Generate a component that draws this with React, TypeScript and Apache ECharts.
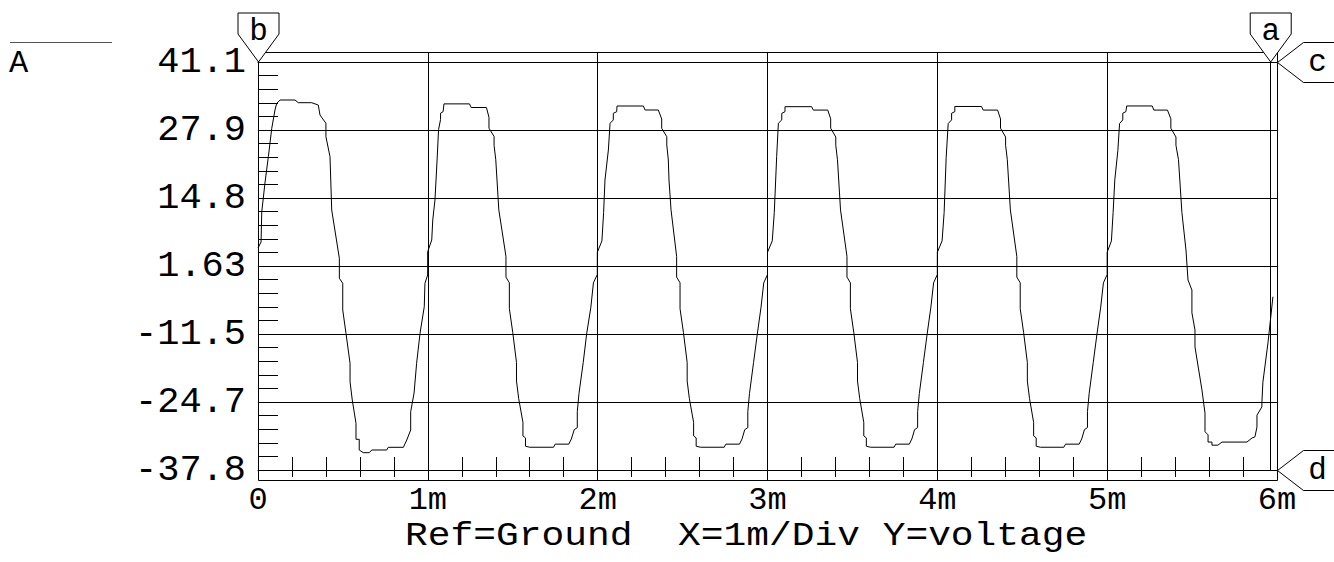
import React, { useEffect, useRef } from "react";
import * as echarts from "echarts";

// ---- labels ----
const traceName = "A";
const xTickLabels = ["0", "1m", "2m", "3m", "4m", "5m", "6m"];
const yTickLabels = ["-37.8", "-24.7", "-11.5", "1.63", "14.8", "27.9", "41.1"];
const bottomCaption = "Ref=Ground  X=1m/Div Y=voltage";
const cursorNames = ["a", "b", "c", "d"];

// ---- axis ranges (time in ms, voltage in V) ----
const xMin = 0;
const xMax = 6;
const yMin = -37.8;
const yMax = 41.1;

// ---- cursors ----
const cursorA = 5.96; // time
const cursorB = 0; // time
const cursorC = 41.1; // voltage
const cursorD = -37.8; // voltage

// ---- waveform, [time ms, volts] ----
const cycle1: [number, number][] = [
  [0.0, 5.13], [0.018, 6.29], [0.022, 12.09], [0.041, 17.7], [0.061, 22.79], [0.081, 28.28],
  [0.1, 31.82], [0.11, 33.09], [0.13, 33.75], [0.218, 33.75], [0.237, 33.23], [0.316, 33.23],
  [0.355, 32.78], [0.365, 30.85], [0.4, 29.25], [0.4, 26.65], [0.424, 22.79], [0.434, 12.48],
  [0.479, 3.14], [0.479, -0.73], [0.499, -1.7], [0.499, -6.86], [0.518, -11.37], [0.542, -17.17],
  [0.542, -20.73], [0.555, -24.26], [0.577, -28.77], [0.577, -31.86], [0.596, -31.86], [0.596, -33.93],
  [0.62, -34.45], [0.655, -34.45], [0.67, -33.93], [0.758, -33.93], [0.767, -33.41], [0.856, -33.41],
  [0.876, -32.0], [0.899, -30.06], [0.899, -26.53], [0.919, -22.91], [0.934, -17.17], [0.954, -11.37],
  [0.979, -6.22], [0.983, -1.7], [0.999, -0.09], [0.999, 4.41], [1.023, 6.68], [1.029, 10.55],
];
const cycle2: [number, number][] = [
  [1.042, 14.41], [1.055, 22.5], [1.063, 28.0], [1.075, 30.0], [1.075, 31.2], [1.09, 31.5],
  [1.095, 33.0], [1.245, 33.0], [1.255, 32.3], [1.345, 32.3], [1.36, 30.4], [1.36, 28.3],
  [1.39, 26.7], [1.39, 25.0], [1.4, 22.2], [1.418, 12.5], [1.46, 3.5], [1.46, -0.5],
  [1.48, -1.6], [1.48, -6.6], [1.5, -11.2], [1.522, -17.0], [1.522, -20.6], [1.535, -24.0],
  [1.56, -28.6], [1.56, -31.2], [1.575, -31.6], [1.575, -33.2], [1.6, -33.4], [1.74, -33.4],
  [1.75, -32.8], [1.83, -32.8], [1.845, -31.8], [1.862, -30.0], [1.88, -29.6], [1.88, -26.5],
  [1.89, -23.0], [1.915, -17.0], [1.935, -11.5], [1.96, -6.3], [1.975, -1.6], [1.998, 0.0],
  [1.998, 4.3], [2.025, 6.5], [2.035, 12.0],
];
const cycle3: [number, number][] = [
  [2.043, 18.28], [2.063, 24.08], [2.073, 29.25], [2.092, 29.89], [2.092, 31.18], [2.112, 31.49],
  [2.114, 32.59], [2.269, 32.59], [2.279, 31.82], [2.357, 31.82], [2.377, 30.08], [2.377, 28.28],
  [2.407, 26.65], [2.407, 25.05], [2.416, 22.15], [2.42, 18.28], [2.432, 12.5], [2.465, 3.5],
  [2.465, -0.5], [2.485, -1.6], [2.485, -6.6], [2.505, -11.2], [2.527, -17.0], [2.527, -20.6],
  [2.54, -24.0], [2.565, -28.6], [2.565, -31.2], [2.58, -31.6], [2.58, -33.2], [2.605, -33.4],
  [2.745, -33.4], [2.755, -32.8], [2.835, -32.8], [2.85, -31.8], [2.866, -30.0], [2.884, -29.6],
  [2.884, -26.5], [2.894, -23.0], [2.918, -17.0], [2.94, -11.5], [2.962, -6.3], [2.978, -1.6],
  [3.0, 0.0], [3.0, 4.3], [3.028, 6.5], [3.04, 12.0],
];
const cycle4: [number, number][] = [
  [3.054, 22.79], [3.064, 29.25], [3.084, 29.89], [3.084, 31.18], [3.103, 31.49], [3.103, 32.46],
  [3.26, 32.46], [3.27, 31.8], [3.355, 31.8], [3.372, 30.1], [3.372, 28.3], [3.402, 26.6],
  [3.402, 25.0], [3.412, 22.2], [3.43, 12.5], [3.468, 3.5], [3.468, -0.5], [3.488, -1.6],
  [3.488, -6.6], [3.508, -11.2], [3.53, -17.0], [3.53, -20.6], [3.543, -24.0], [3.567, -28.6],
  [3.567, -31.2], [3.582, -31.6], [3.582, -33.2], [3.607, -33.4], [3.745, -33.4], [3.755, -32.8],
  [3.835, -32.8], [3.85, -31.8], [3.866, -30.0], [3.884, -29.6], [3.884, -26.5], [3.894, -23.0],
  [3.918, -17.0], [3.94, -11.5], [3.962, -6.3], [3.978, -1.6], [4.0, 0.0], [4.0, 4.3],
  [4.028, 6.5], [4.04, 12.0],
];
const cycle5: [number, number][] = [
  [4.052, 22.6], [4.064, 29.2], [4.084, 29.9], [4.084, 31.2], [4.103, 31.5], [4.103, 32.5],
  [4.26, 32.5], [4.27, 31.8], [4.355, 31.8], [4.372, 30.1], [4.372, 28.3], [4.402, 26.6],
  [4.402, 25.0], [4.412, 22.2], [4.43, 12.5], [4.468, 3.5], [4.468, -0.5], [4.488, -1.6],
  [4.488, -6.6], [4.508, -11.2], [4.53, -17.0], [4.53, -20.6], [4.543, -24.0], [4.567, -28.6],
  [4.567, -31.2], [4.582, -31.6], [4.582, -33.2], [4.607, -33.4], [4.745, -33.4], [4.755, -32.8],
  [4.835, -32.8], [4.85, -31.8], [4.866, -30.0], [4.884, -29.6], [4.884, -26.5], [4.894, -23.0],
  [4.918, -17.0], [4.94, -11.5], [4.962, -6.3], [4.978, -1.6], [5.0, 0.0], [5.0, 4.3],
  [5.025, 6.5], [5.035, 12.0],
];
const cycle6: [number, number][] = [
  [5.045, 18.3], [5.063, 24.0], [5.073, 29.2], [5.092, 29.9], [5.092, 31.2], [5.11, 31.5],
  [5.115, 32.6], [5.265, 32.6], [5.275, 31.8], [5.355, 31.8], [5.375, 30.1], [5.375, 28.3],
  [5.405, 26.6], [5.405, 25.0], [5.42, 22.2], [5.44, 12.0], [5.464, 4.74], [5.476, -1.06],
  [5.499, -3.0], [5.499, -7.4], [5.517, -10.7], [5.517, -14.0], [5.558, -22.3], [5.576, -26.8],
  [5.576, -30.4], [5.594, -31.0], [5.594, -32.4], [5.617, -32.4], [5.617, -33.0], [5.652, -33.0],
  [5.676, -32.4], [5.823, -32.4], [5.853, -31.6], [5.87, -31.4], [5.882, -29.5], [5.882, -27.2],
  [5.911, -25.6], [5.911, -24.8], [5.917, -20.8], [5.947, -13.2], [5.976, -4.3],
];

// ---- layout ----
const W = 1334;
const H = 562;
const GRID_LEFT = 258;
const GRID_TOP = 62;
const GRID_W = 1019;
const GRID_H = 408;
const FRAME_PAD = 10;
const FONT = '"Liberation Mono", "DejaVu Sans Mono", monospace';
const INK = "#000";

const yTickValues = yTickLabels.map(Number);

function yLabel(v: number): string {
  let best = 0;
  for (let i = 1; i < yTickValues.length; i++) {
    if (Math.abs(yTickValues[i] - v) < Math.abs(yTickValues[best] - v)) best = i;
  }
  return yTickLabels[best];
}

export default function App() {
  const ref = useRef<HTMLDivElement>(null);

  useEffect(() => {
    if (!ref.current) return;
    const chart = echarts.init(ref.current, null, { renderer: "svg" });
    const data = [...cycle1, ...cycle2, ...cycle3, ...cycle4, ...cycle5, ...cycle6];

    chart.setOption({
      animation: false,
      backgroundColor: "#fff",
      grid: { left: GRID_LEFT, top: GRID_TOP, width: GRID_W, height: GRID_H, containLabel: false },
      xAxis: [
        {
          type: "value",
          min: xMin,
          max: xMax,
          interval: 1,
          position: "bottom",
          axisLine: { show: true, onZero: false, lineStyle: { color: INK, width: 1 } },
          axisTick: { show: true, inside: false, length: FRAME_PAD, lineStyle: { color: INK, width: 1 } },
          minorTick: { show: true, splitNumber: 5, length: 7, lineStyle: { color: INK, width: 1 } },
          axisLabel: {
            show: true,
            formatter: (v: number) => xTickLabels[Math.round(v)],
            fontFamily: FONT,
            fontSize: 32,
            color: INK,
            margin: 14,
            showMinLabel: true,
            showMaxLabel: true,
          },
          splitLine: { show: true, lineStyle: { color: INK, width: 1 } },
        },
        {
          type: "value",
          min: xMin,
          max: xMax,
          interval: 1,
          position: "bottom",
          axisLine: { show: false, onZero: false },
          axisTick: { show: false, inside: true },
          minorTick: { show: true, splitNumber: 5, length: 13, lineStyle: { color: INK, width: 1 } },
          axisLabel: { show: false },
          splitLine: { show: false },
        },
        {
          type: "value",
          min: xMin,
          max: xMax,
          interval: 1,
          position: "top",
          axisLine: { show: true, onZero: false, lineStyle: { color: INK, width: 1 } },
          axisTick: { show: true, inside: false, length: FRAME_PAD, lineStyle: { color: INK, width: 1 } },
          axisLabel: { show: false },
          splitLine: { show: false },
        },
      ],
      yAxis: [
        {
          type: "value",
          min: yMin,
          max: yMax,
          position: "left",
          axisLine: { show: true, onZero: false, lineStyle: { color: INK, width: 1 } },
          axisTick: { show: false },
          axisLabel: {
            show: true,
            customValues: yTickValues,
            formatter: (v: number) => yLabel(v),
            fontFamily: FONT,
            fontSize: 37,
            color: INK,
            margin: 12,
            padding: [0, 0, 8, 0],
            showMinLabel: true,
            showMaxLabel: true,
          },
          splitLine: { show: false },
        },
        {
          type: "value",
          min: 0,
          max: 6,
          interval: 1,
          position: "left",
          axisLine: { show: false, onZero: false },
          axisTick: { show: false, inside: true },
          minorTick: { show: true, splitNumber: 5, length: 20, lineStyle: { color: INK, width: 1 } },
          axisLabel: { show: false },
          splitLine: { show: true, lineStyle: { color: INK, width: 1 } },
        },
      ],
      series: [
        {
          name: traceName,
          type: "line",
          xAxisIndex: 0,
          yAxisIndex: 0,
          data,
          showSymbol: false,
          symbol: "none",
          lineStyle: { color: INK, width: 1 },
          clip: true,
          markLine: {
            silent: true,
            symbol: "none",
            label: { show: false },
            lineStyle: { color: INK, width: 1, type: "solid" },
            data: [{ xAxis: cursorA }],
          },
        },
      ],
    });

    const [ax] = chart.convertToPixel({ xAxisIndex: 0, yAxisIndex: 0 }, [cursorA, cursorC]);
    const [bx, cy] = chart.convertToPixel({ xAxisIndex: 0, yAxisIndex: 0 }, [cursorB, cursorC]);
    const [, dy] = chart.convertToPixel({ xAxisIndex: 0, yAxisIndex: 0 }, [cursorB, cursorD]);
    const right = GRID_LEFT + GRID_W;

    const downMarker = (x: number, y: number, label: string) => [
      {
        type: "polygon",
        shape: { points: [[x - 20.5, y - 49], [x + 20.5, y - 49], [x + 20.5, y - 28], [x, y], [x - 20.5, y - 28]] },
        style: { fill: "#fff", stroke: INK, lineWidth: 1 },
        z: 10,
      },
      {
        type: "text",
        x: x,
        y: y - 31,
        style: { text: label, font: `31px ${FONT}`, fill: INK, align: "center", verticalAlign: "middle" },
        z: 11,
      },
    ];
    const leftMarker = (x: number, y: number, label: string) => [
      {
        type: "polygon",
        shape: { points: [[x, y], [x + 26, y - 20], [x + 70, y - 20], [x + 70, y + 20], [x + 26, y + 20]] },
        style: { fill: "#fff", stroke: INK, lineWidth: 1 },
        z: 10,
      },
      {
        type: "text",
        x: x + 40,
        y: y,
        style: { text: label, font: `31px ${FONT}`, fill: INK, align: "center", verticalAlign: "middle" },
        z: 11,
      },
    ];

    chart.setOption({
      graphic: [
        {
          type: "rect",
          shape: { x: GRID_LEFT + 0.5, y: GRID_TOP - FRAME_PAD + 0.5, width: GRID_W, height: GRID_H + 2 * FRAME_PAD },
          style: { fill: "none", stroke: INK, lineWidth: 1 },
          z: 5,
        },
        {
          type: "line",
          shape: { x1: 10, y1: 42.5, x2: 112, y2: 42.5 },
          style: { stroke: "#555", lineWidth: 1 },
        },
        {
          type: "text",
          x: 9,
          y: 63,
          style: { text: traceName, font: `32px ${FONT}`, fill: INK, align: "left", verticalAlign: "middle" },
        },
        {
          type: "text",
          x: 405,
          y: 536,
          scaleX: 1.115,
          style: { text: bottomCaption, font: `34px ${FONT}`, fill: INK, align: "left", verticalAlign: "middle" },
        },
        ...downMarker(bx + 0.5, cy, cursorNames[1]),
        ...downMarker(ax + 0.5, cy, cursorNames[0]),
        ...leftMarker(right + 0.5, cy + 0.5, cursorNames[2]),
        ...leftMarker(right + 0.5, dy + 0.5, cursorNames[3]),
      ],
    });

    return () => chart.dispose();
  }, []);

  return (
    <div
      ref={ref}
      style={{ position: "absolute", left: 0, top: 0, width: W, height: H, background: "#fff" }}
    />
  );
}
